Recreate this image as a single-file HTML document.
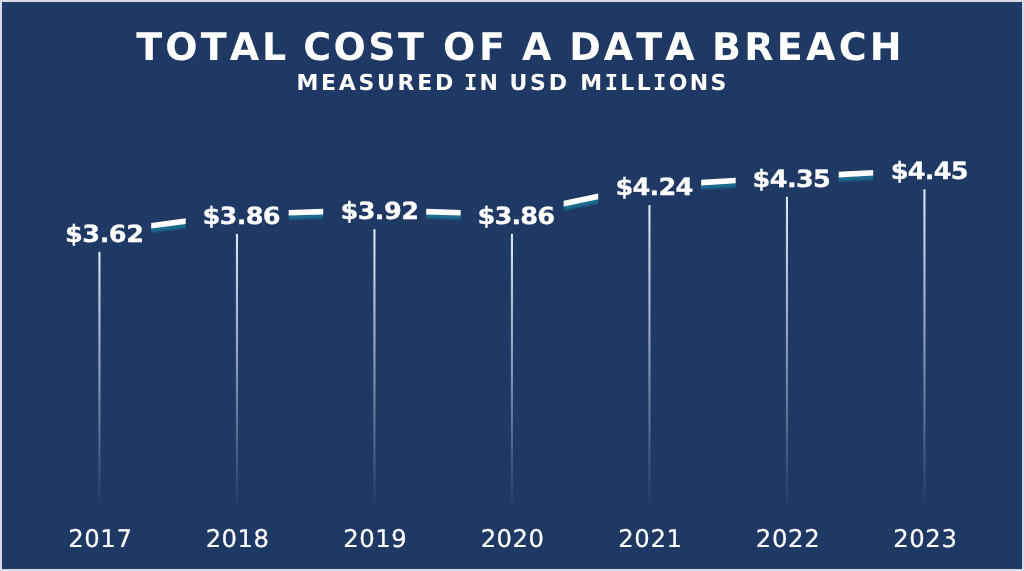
<!DOCTYPE html>
<html lang="en">
<head>
<meta charset="utf-8">
<title>Total Cost of a Data Breach</title>
<style>
html,body{margin:0;padding:0;}
body{width:1024px;height:571px;overflow:hidden;background:#d9dbe9;position:relative;font-family:'DejaVu Sans','Liberation Sans',sans-serif;color:#fff;font-kerning:none;text-rendering:geometricPrecision;}
.panel{position:absolute;left:2px;top:2px;width:1020px;height:567px;background:#1f3864;}
.chart{position:absolute;left:0;top:0;}
.title,.sub{position:absolute;left:0;margin:0;width:1024px;height:60px;font-weight:bold;line-height:60px;white-space:nowrap;text-align:left;}
.title{font-size:38px;}
.sub{font-size:22px;}
.sub i{font-style:normal;font-family:'DejaVu Sans Mono','Liberation Mono',monospace;}
.val{position:absolute;left:0;transform-origin:0 50%;-webkit-text-stroke:0.3px #fff;font-weight:bold;font-size:23.7px;line-height:60px;white-space:nowrap;}
.yr{position:absolute;-webkit-text-stroke:0.2px #fff;font-size:24.3px;line-height:60px;white-space:nowrap;}
</style>
</head>
<body>
<div class="panel"></div>
<svg class="chart" width="1024" height="571" viewBox="0 0 1024 571">
<defs>
<linearGradient id="drop0" gradientUnits="userSpaceOnUse" x1="0" y1="232.50" x2="0" y2="510"><stop offset="0" stop-color="#eaf2ff" stop-opacity="1"/><stop offset="0.5" stop-color="#e6efff" stop-opacity="0.55"/><stop offset="1" stop-color="#e6efff" stop-opacity="0"/></linearGradient>
<linearGradient id="drop1" gradientUnits="userSpaceOnUse" x1="0" y1="214.40" x2="0" y2="510"><stop offset="0" stop-color="#eaf2ff" stop-opacity="1"/><stop offset="0.5" stop-color="#e6efff" stop-opacity="0.55"/><stop offset="1" stop-color="#e6efff" stop-opacity="0"/></linearGradient>
<linearGradient id="drop2" gradientUnits="userSpaceOnUse" x1="0" y1="209.88" x2="0" y2="510"><stop offset="0" stop-color="#eaf2ff" stop-opacity="1"/><stop offset="0.5" stop-color="#e6efff" stop-opacity="0.55"/><stop offset="1" stop-color="#e6efff" stop-opacity="0"/></linearGradient>
<linearGradient id="drop3" gradientUnits="userSpaceOnUse" x1="0" y1="214.40" x2="0" y2="510"><stop offset="0" stop-color="#eaf2ff" stop-opacity="1"/><stop offset="0.5" stop-color="#e6efff" stop-opacity="0.55"/><stop offset="1" stop-color="#e6efff" stop-opacity="0"/></linearGradient>
<linearGradient id="drop4" gradientUnits="userSpaceOnUse" x1="0" y1="185.75" x2="0" y2="510"><stop offset="0" stop-color="#eaf2ff" stop-opacity="1"/><stop offset="0.5" stop-color="#e6efff" stop-opacity="0.55"/><stop offset="1" stop-color="#e6efff" stop-opacity="0"/></linearGradient>
<linearGradient id="drop5" gradientUnits="userSpaceOnUse" x1="0" y1="177.46" x2="0" y2="510"><stop offset="0" stop-color="#eaf2ff" stop-opacity="1"/><stop offset="0.5" stop-color="#e6efff" stop-opacity="0.55"/><stop offset="1" stop-color="#e6efff" stop-opacity="0"/></linearGradient>
<linearGradient id="drop6" gradientUnits="userSpaceOnUse" x1="0" y1="169.92" x2="0" y2="510"><stop offset="0" stop-color="#eaf2ff" stop-opacity="1"/><stop offset="0.5" stop-color="#e6efff" stop-opacity="0.55"/><stop offset="1" stop-color="#e6efff" stop-opacity="0"/></linearGradient>
<filter id="soft" filterUnits="userSpaceOnUse" x="0" y="0" width="1024" height="571"><feGaussianBlur stdDeviation="0 0.8"/></filter>
</defs>
<g class="droplines">
<rect x="98.40" y="251.90" width="2.1" height="258.10" fill="url(#drop0)"/>
<rect x="235.90" y="233.80" width="2.1" height="276.20" fill="url(#drop1)"/>
<rect x="373.40" y="229.28" width="2.1" height="280.72" fill="url(#drop2)"/>
<rect x="510.90" y="233.80" width="2.1" height="276.20" fill="url(#drop3)"/>
<rect x="648.40" y="205.15" width="2.1" height="304.85" fill="url(#drop4)"/>
<rect x="785.90" y="196.86" width="2.1" height="313.14" fill="url(#drop5)"/>
<rect x="923.40" y="189.32" width="2.1" height="320.68" fill="url(#drop6)"/>
</g>
<g class="line-shadow" fill="#1b6c90" filter="url(#soft)" transform="translate(0 4.0)">
<polygon points="151.20,222.90 185.70,218.36 185.70,224.01 151.20,228.55"/>
<polygon points="288.70,209.91 323.20,208.77 323.20,214.38 288.70,215.51"/>
<polygon points="426.20,208.77 460.70,209.91 460.70,215.51 426.20,214.38"/>
<polygon points="563.70,200.81 598.20,193.62 598.20,199.34 563.70,206.53"/>
<polygon points="701.20,179.84 735.70,177.76 735.70,183.37 701.20,185.45"/>
<polygon points="838.70,171.83 873.20,169.94 873.20,175.55 838.70,177.44"/>
</g>
<g class="line" fill="#ffffff">
<polygon points="151.20,222.90 185.70,218.36 185.70,224.01 151.20,228.55"/>
<polygon points="288.70,209.91 323.20,208.77 323.20,214.38 288.70,215.51"/>
<polygon points="426.20,208.77 460.70,209.91 460.70,215.51 426.20,214.38"/>
<polygon points="563.70,200.81 598.20,193.62 598.20,199.34 563.70,206.53"/>
<polygon points="701.20,179.84 735.70,177.76 735.70,183.37 701.20,185.45"/>
<polygon points="838.70,171.83 873.20,169.94 873.20,175.55 838.70,177.44"/>
</g>
</svg>
<h1 class="title" style="top:17.09px"><span style="margin-left:136.25px;letter-spacing:3.08px">TOTAL</span> <span style="margin-left:0.48px;letter-spacing:2.43px">COST</span> <span style="margin-left:3.44px;letter-spacing:3.61px">OF</span> <span style="margin-left:0.17px;letter-spacing:0.00px">A</span> <span style="margin-left:4.68px;letter-spacing:3.03px">DATA</span> <span style="margin-left:1.04px;letter-spacing:3.29px">BREACH</span></h1>
<h2 class="sub" style="top:54.00px"><span style="margin-left:296.45px;letter-spacing:2.70px">MEASURED</span> <span style="margin-left:0.30px;letter-spacing:2.30px"><i>I</i>N</span> <span style="margin-left:1.56px;letter-spacing:2.83px">USD</span> <span style="margin-left:2.83px;letter-spacing:2.37px">M<i>I</i>LL<i>I</i>ONS</span></h2>
<div class="val" style="top:204px;transform:translateX(65.04px) scaleX(1.08);letter-spacing:-0.46px">$3.62</div>
<div class="val" style="top:186px;transform:translateX(202.54px) scaleX(1.08);letter-spacing:-0.67px">$3.86</div>
<div class="val" style="top:181px;transform:translateX(340.44px) scaleX(1.08);letter-spacing:-0.56px">$3.92</div>
<div class="val" style="top:186px;transform:translateX(477.54px) scaleX(1.08);letter-spacing:-0.77px">$3.86</div>
<div class="val" style="top:157px;transform:translateX(615.54px) scaleX(1.08);letter-spacing:-0.73px">$4.24</div>
<div class="val" style="top:149px;transform:translateX(752.62px) scaleX(1.08);letter-spacing:-0.61px">$4.35</div>
<div class="val" style="top:141px;transform:translateX(890.74px) scaleX(1.08);letter-spacing:-0.73px">$4.45</div>
<div class="yr" style="left:68.26px;top:508.57px;letter-spacing:0.60px">2017</div>
<div class="yr" style="left:205.66px;top:508.57px;letter-spacing:0.48px">2018</div>
<div class="yr" style="left:343.25px;top:508.57px;letter-spacing:0.53px">2019</div>
<div class="yr" style="left:480.66px;top:508.57px;letter-spacing:0.49px">2020</div>
<div class="yr" style="left:618.26px;top:508.57px;letter-spacing:0.61px">2021</div>
<div class="yr" style="left:755.71px;top:508.57px;letter-spacing:0.73px">2022</div>
<div class="yr" style="left:893.34px;top:508.57px;letter-spacing:0.56px">2023</div>
</body>
</html>
